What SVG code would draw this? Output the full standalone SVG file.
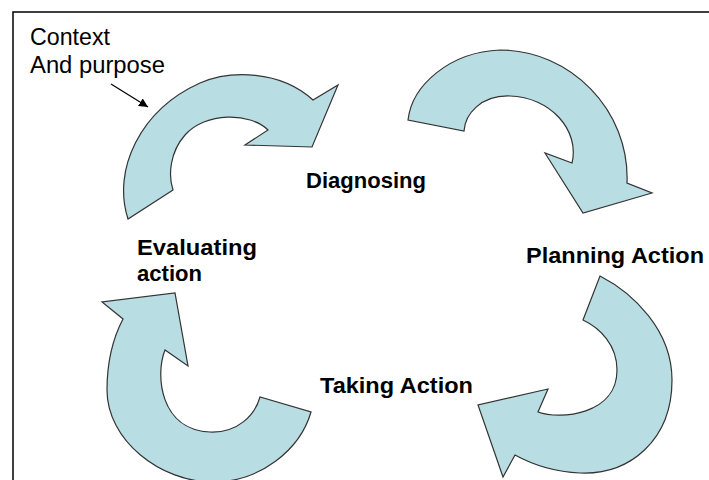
<svg xmlns="http://www.w3.org/2000/svg" width="709" height="480" viewBox="0 0 709 480">
<defs>
<style>
.arrow{fill:#b8dde3;stroke:#333;stroke-width:1.2;stroke-linejoin:miter}
.lbl{font-family:"Liberation Sans",Arial,sans-serif;font-weight:bold;font-size:22.5px;fill:#000}
.note{font-family:"Liberation Sans",Arial,sans-serif;font-size:23px;fill:#000}
.border{stroke:#000;stroke-width:1.5;fill:none}
</style>
<marker id="ah" viewBox="0 0 10 10" refX="10" refY="5" markerWidth="9" markerHeight="9" markerUnits="userSpaceOnUse" orient="auto">
<path d="M0,0 L10,5 L0,10 Z" fill="#000"/>
</marker>
</defs>
<rect width="709" height="480" fill="#fff"/>
<path class="border" d="M13,480 L13,12 L709,12"/>
<g id="arrow-evaluate-diagnose">
<path class="arrow" d="M128,219 C112,170 140,110 200,83 C230,70 280,70 313,100 L338,85 L312,147 L245,145 L268,130 C250,112 205,112 185,135 C170,152 168,175 173,190 Z"/>
</g>
<g id="arrow-diagnose-plan">
<path class="arrow" d="M408,120 C412,85 450,52 500,50 C570,50 630,110 627,183 L652,193 L583,213 L545,153 L572,163 C580,130 550,97 510,96 C480,95 465,115 464,131 Z"/>
</g>
<g id="arrow-plan-take">
<path class="arrow" d="M600,276 C633,293 672,330 672,380 C672,440 630,475 580,473 C558,472 535,466 515,455 L503,477 L478,405 L548,389 L538,412 C560,420 617,415 617,370 C617,345 600,328 583,320 Z"/>
</g>
<g id="arrow-take-evaluate">
<path class="arrow" d="M311,412 C300,450 260,482 213,482 C160,482 107,440 107,390 C107,362 112,340 123,319 L102,302 L175,293 L188,366 L165,350 C155,375 160,430 210,432 C238,433 255,415 260,397 Z"/>
</g>
<g id="connectors">
<line x1="111" y1="84" x2="148" y2="107" stroke="#000" stroke-width="1.2" marker-end="url(#ah)"/>
</g>
<g id="label-context">
<text class="note" x="30" y="45" textLength="80" lengthAdjust="spacingAndGlyphs">Context</text>
<text class="note" x="30" y="73" textLength="135" lengthAdjust="spacingAndGlyphs">And purpose</text>
</g>
<g id="label-diagnosing">
<text class="lbl" x="306" y="188" textLength="120" lengthAdjust="spacingAndGlyphs">Diagnosing</text>
</g>
<g id="label-evaluating">
<text class="lbl" x="137" y="255" textLength="120" lengthAdjust="spacingAndGlyphs">Evaluating</text>
<text class="lbl" x="137" y="281" textLength="65" lengthAdjust="spacingAndGlyphs">action</text>
</g>
<g id="label-planning">
<text class="lbl" x="526" y="263" textLength="178" lengthAdjust="spacingAndGlyphs">Planning Action</text>
</g>
<g id="label-taking">
<text class="lbl" x="320" y="393" textLength="153" lengthAdjust="spacingAndGlyphs">Taking Action</text>
</g>
</svg>
